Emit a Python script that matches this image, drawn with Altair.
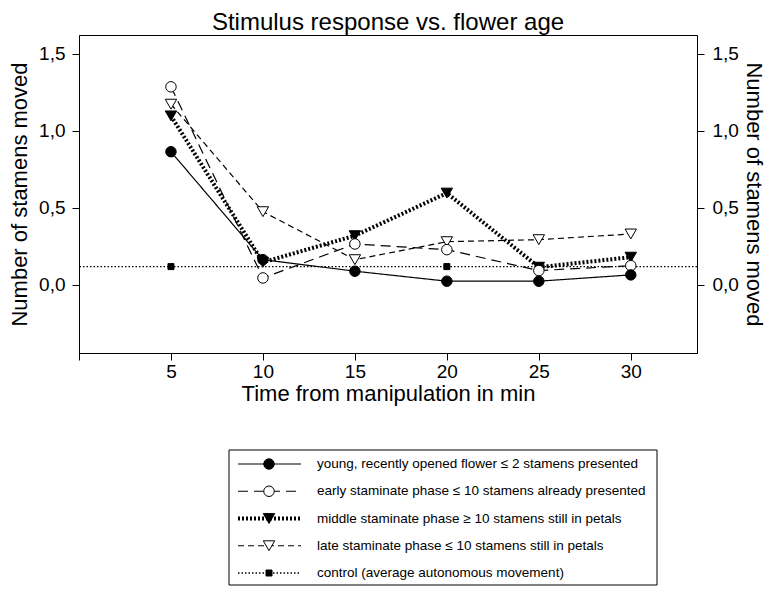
import altair as alt
import pandas as pd

# ---------------- data ----------------
times = [5, 10, 15, 20, 25, 30]
series_names = [
    "young, recently opened flower ≤ 2 stamens presented",
    "early staminate phase ≤ 10 stamens already presented",
    "middle staminate phase ≥ 10 stamens still in petals",
    "late staminate phase ≤ 10 stamens still in petals",
]
control_name = "control (average autonomous movement)"
young = [0.864, 0.162, 0.087, 0.022, 0.022, 0.063]
early = [1.286, 0.043, 0.264, 0.227, 0.091, 0.123]
middle = [1.097, 0.145, 0.318, 0.595, 0.113, 0.178]
late = [1.173, 0.474, 0.162, 0.279, 0.292, 0.329]
control_level = [0.117]
control_marker_times = [5, 20]
x_ticks = [0, 5, 10, 15, 20, 25, 30]
y_ticks = [0.0, 0.5, 1.0, 1.5]

all_names = series_names + [control_name]
FONT = "Liberation Sans"

rows = []
for name, vals in zip(series_names, [young, early, middle, late]):
    for t, v in zip(times, vals):
        rows.append({"time": t, "value": v, "series": name})
df = pd.DataFrame(rows)
ctrl_pts = pd.DataFrame({"time": control_marker_times,
                         "value": control_level * len(control_marker_times),
                         "series": [control_name] * len(control_marker_times)})
ctrl_line = pd.DataFrame({"value": control_level, "series": [control_name]})
legend_df = pd.DataFrame({"series": all_names})

# ---------------- styles per series ----------------
STYLE = {
    all_names[0]: dict(dash=[1, 0], width=1.2, shape="circle", fill="black", size=110),
    all_names[1]: dict(dash=[10, 6], width=1.2, shape="circle", fill="white", size=110),
    all_names[2]: dict(dash=[2, 2], width=4, shape="triangle-down", fill="black", size=130),
    all_names[3]: dict(dash=[6, 4], width=1.2, shape="triangle-down", fill="white", size=130),
    all_names[4]: dict(dash=[1.5, 2], width=1.3, shape="square", fill="black", size=36),
}

xscale = alt.Scale(domain=[0, 33.6], nice=False, zero=False)
yscale = alt.Scale(domain=[-0.445, 1.623], nice=False, zero=False)

label_expr = "replace(format(datum.value, '.1f'), '.', ',')"

x_axis = alt.Axis(values=x_ticks, labelExpr="datum.value == 0 ? '' : datum.label",
                  title="Time from manipulation in min", grid=False)
left_axis = alt.Axis(values=y_ticks, labelExpr=label_expr, orient="left",
                     title="Number of stamens moved", grid=False,
                     labelPadding=7, titlePadding=7)
right_axis = alt.Axis(values=y_ticks, labelExpr=label_expr, orient="right",
                      title="Number of stamens moved", grid=False,
                      labelPadding=8, titlePadding=3)

X = alt.X("time:Q", scale=xscale, axis=x_axis)

layers = []
# control line across the whole plot (carries the right axis)
st = STYLE[control_name]
layers.append(alt.Chart(ctrl_line).mark_rule(
    color="black", strokeDash=st["dash"], strokeWidth=st["width"]
).encode(y=alt.Y("value:Q", scale=yscale, axis=right_axis)))

# series lines (the first carries the left axis)
for i, name in enumerate(series_names):
    st = STYLE[name]
    layers.append(alt.Chart(df).transform_filter(alt.datum.series == name).mark_line(
        color="black", strokeDash=st["dash"], strokeWidth=st["width"]
    ).encode(x=X, y=alt.Y("value:Q", scale=yscale, axis=left_axis if i == 0 else None)))

# control markers
st = STYLE[control_name]
layers.append(alt.Chart(ctrl_pts).mark_point(
    shape=st["shape"], fill=st["fill"], size=st["size"], stroke="black",
    strokeWidth=1, opacity=1, filled=False
).encode(x=X, y=alt.Y("value:Q", scale=yscale, axis=None)))

# series markers
for name in [series_names[2], series_names[3], series_names[1], series_names[0]]:
    st = STYLE[name]
    layers.append(alt.Chart(df).transform_filter(alt.datum.series == name).mark_point(
        shape=st["shape"], fill=st["fill"], size=st["size"], stroke="black",
        strokeWidth=1, opacity=1, filled=False
    ).encode(x=X, y=alt.Y("value:Q", scale=yscale, axis=None)))

top = alt.layer(*layers).resolve_axis(y="independent").properties(
    width=618, height=318,
    title=alt.TitleParams("Stimulus response vs. flower age", fontSize=24,
                          font=FONT, fontWeight="normal", anchor="middle", offset=0),
)

# ---------------- legend panel ----------------
row_y = alt.Y("series:N", sort=all_names, axis=None,
              scale=alt.Scale(type="point", range=[14, 123], padding=0))

leg_layers = [alt.Chart(alt.Data(values=[{}])).mark_rect(
    fill="white", stroke="black", strokeWidth=1
).encode(x=alt.value(150), x2=alt.value(578), y=alt.value(0), y2=alt.value(135))]

for name in all_names:
    st = STYLE[name]
    base = alt.Chart(legend_df).transform_filter(alt.datum.series == name)
    leg_layers.append(base.mark_rule(
        color="black", strokeDash=st["dash"], strokeWidth=st["width"]
    ).encode(x=alt.value(159), x2=alt.value(222), y=row_y))
    leg_layers.append(base.mark_point(
        shape=st["shape"], fill=st["fill"], size=st["size"], stroke="black",
        strokeWidth=1, opacity=1, filled=False
    ).encode(x=alt.value(190), y=row_y))

leg_layers.append(alt.Chart(legend_df).mark_text(
    align="left", baseline="middle", fontSize=13.5, font=FONT, color="black"
).encode(x=alt.value(238), y=row_y, text="series:N"))

legend = alt.layer(*leg_layers).properties(
    width=618, height=136, view=alt.ViewBackground(stroke=None)
)

chart = alt.vconcat(top, legend, spacing=44).properties(
    padding={"left": 0, "top": 2, "right": 3, "bottom": 0}
).configure_view(
    stroke="black", strokeWidth=1
).configure_axis(
    labelFont=FONT, titleFont=FONT, labelFontSize=19, titleFontSize=22,
    titleFontWeight="normal", labelColor="black", titleColor="black",
    domainColor="black", tickColor="black", tickSize=7, domainWidth=1,
).configure_axisX(labelPadding=2, titlePadding=2)

chart.save("out.html", embed_options={"renderer": "svg", "actions": False})
